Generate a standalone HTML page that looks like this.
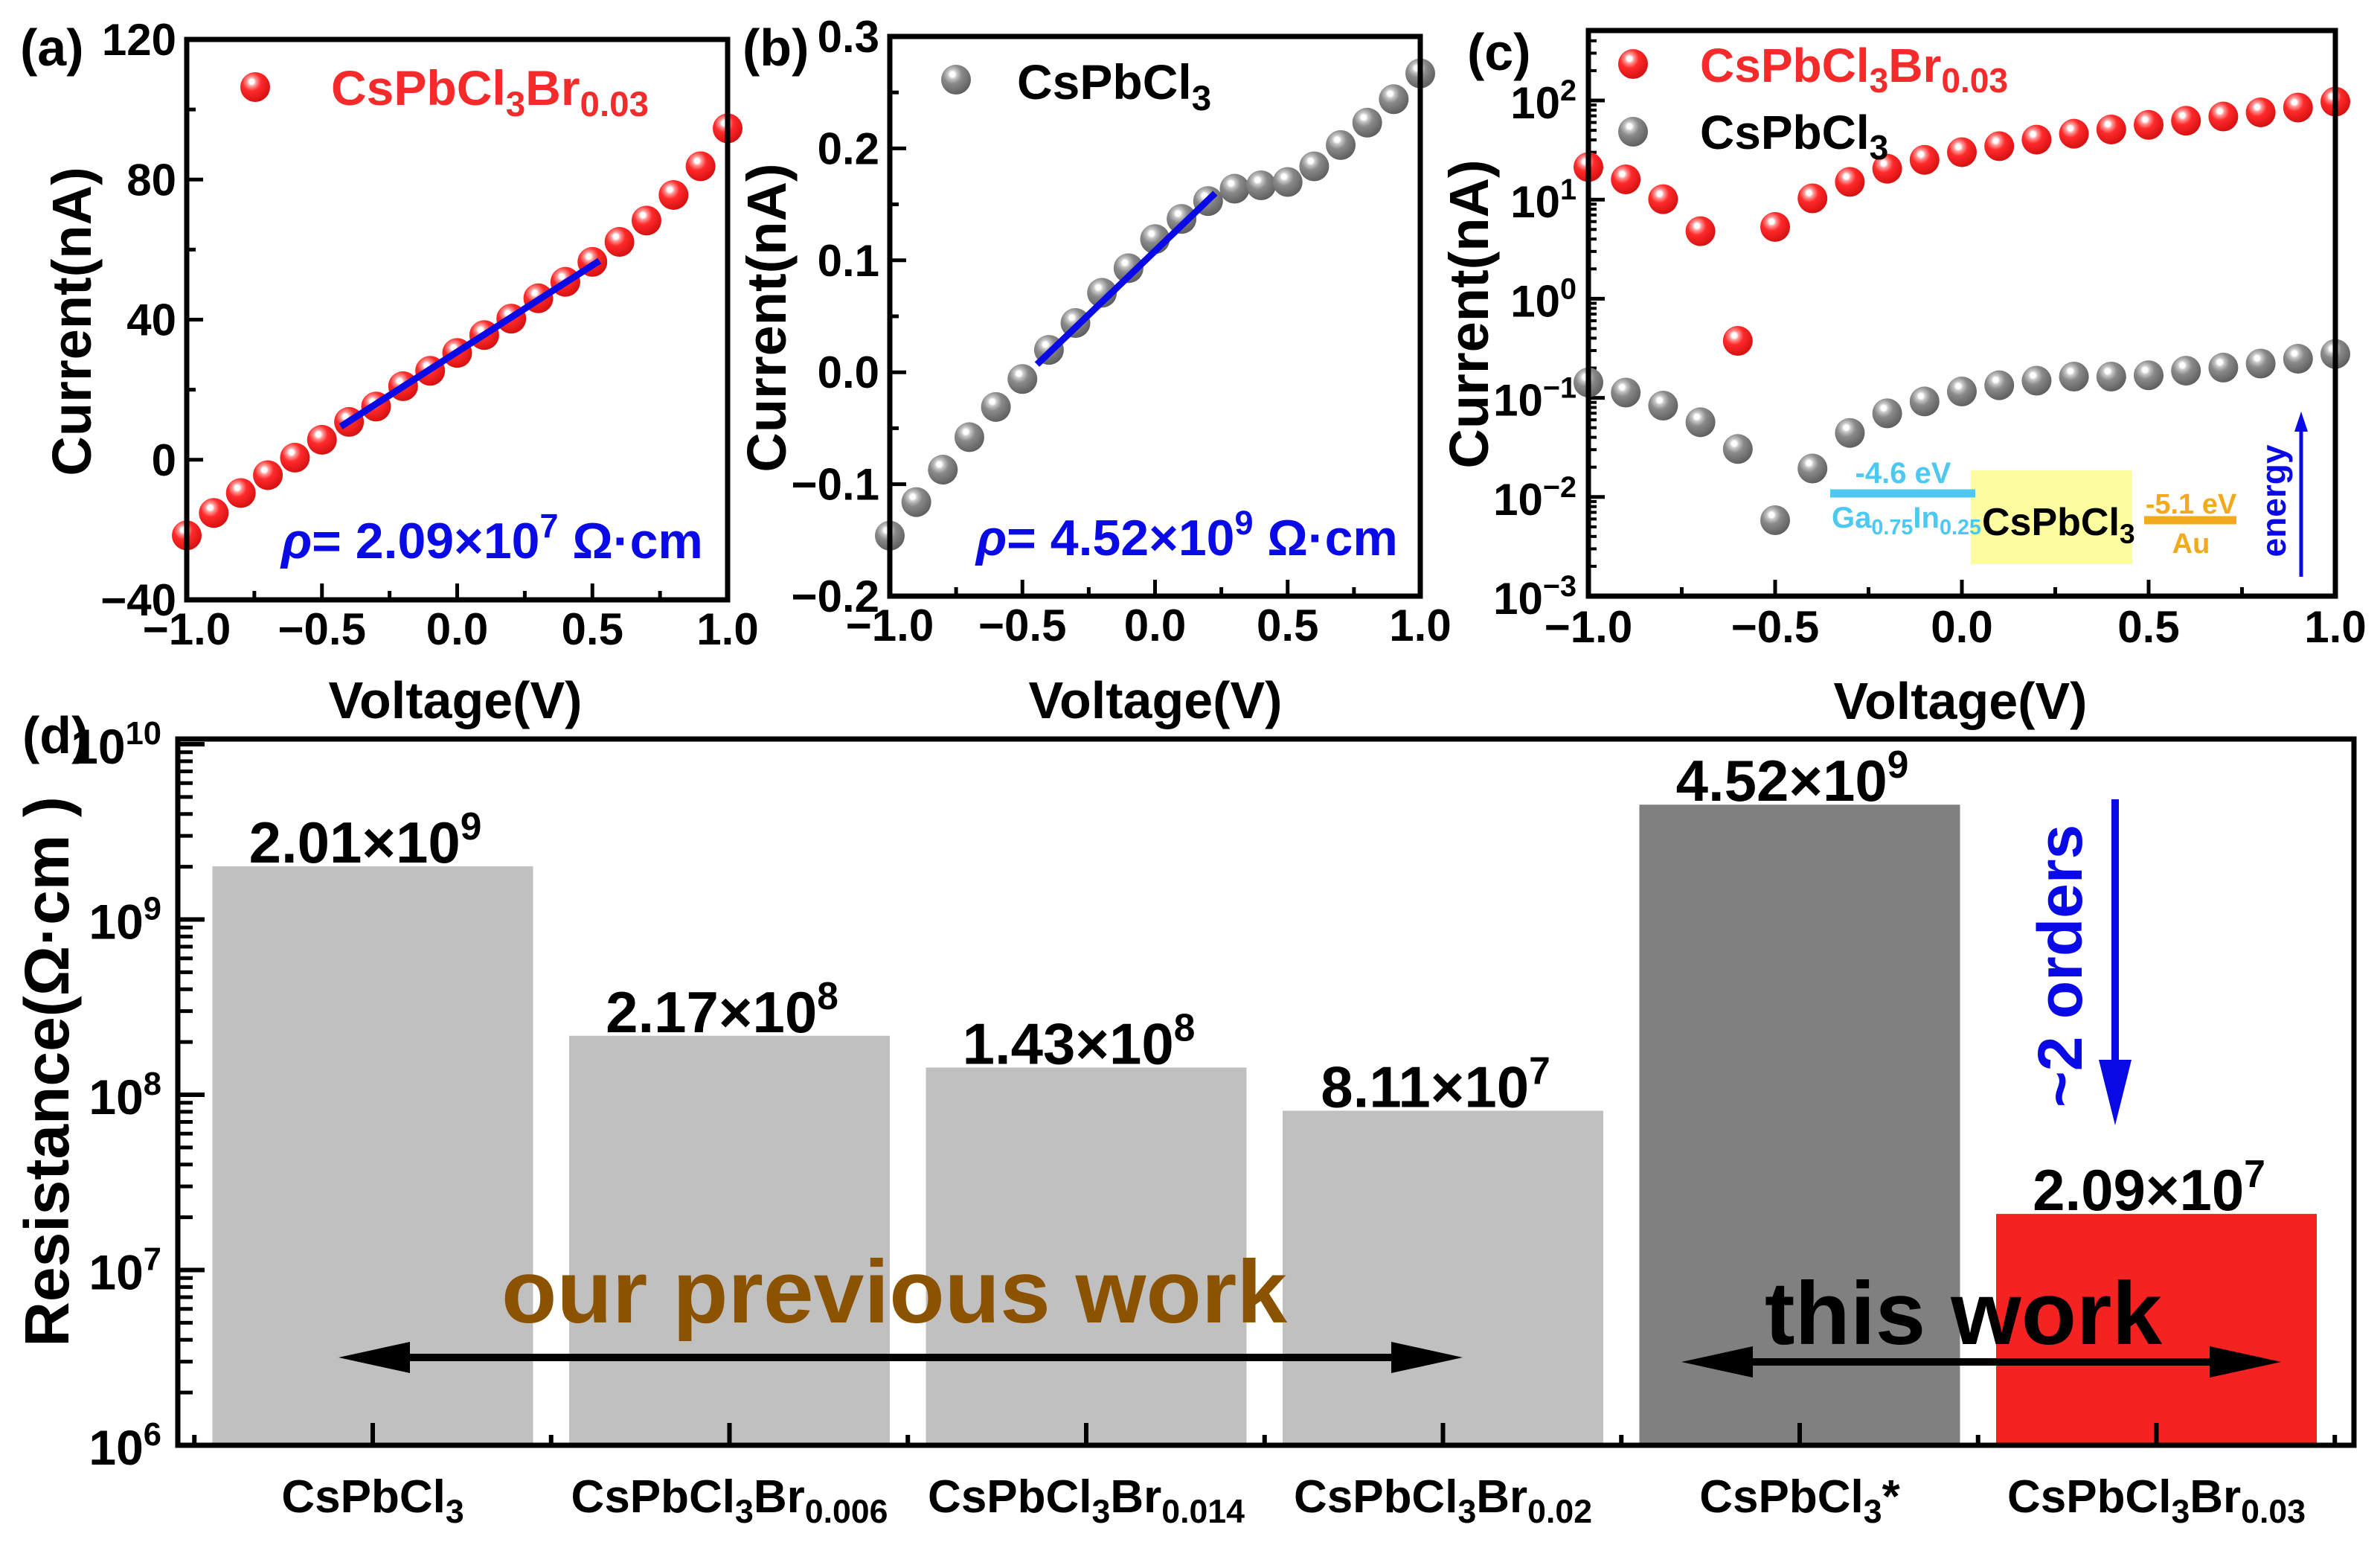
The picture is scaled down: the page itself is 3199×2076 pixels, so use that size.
<!DOCTYPE html>
<html><head><meta charset="utf-8">
<style>
html,body{margin:0;padding:0;background:#fff;}
svg{display:block;font-family:"Liberation Sans",Arial,sans-serif;font-weight:bold;}
</style></head>
<body>
<svg id="fig" xmlns="http://www.w3.org/2000/svg" width="3199" height="2076" viewBox="0 0 3199 2076">
<defs>
<radialGradient id="gRed" cx="38%" cy="32%" r="70%">
<stop offset="0" stop-color="#ffffff"/><stop offset="0.12" stop-color="#ffffff"/>
<stop offset="0.22" stop-color="#ff9a9a"/><stop offset="0.45" stop-color="#ff2a2a"/><stop offset="1" stop-color="#d41010"/>
</radialGradient>
<radialGradient id="gGray" cx="38%" cy="32%" r="70%">
<stop offset="0" stop-color="#ffffff"/><stop offset="0.12" stop-color="#ffffff"/>
<stop offset="0.22" stop-color="#c8c8c8"/><stop offset="0.45" stop-color="#8a8a8a"/><stop offset="1" stop-color="#5e5e5e"/>
</radialGradient>
</defs>
</svg>
<script>
// ---- data ----
const vX = [-1,-0.9,-0.8,-0.7,-0.6,-0.5,-0.4,-0.3,-0.2,-0.1,0,0.1,0.2,0.3,0.4,0.5,0.6,0.7,0.8,0.9,1.0];
const aCurrent = [-21.6,-15.2,-9.5,-4.4,0.6,5.7,10.8,15.2,21,25.4,30.5,35.6,40.3,46.1,50.8,56.5,62.2,68.3,75.6,83.8,94.6];
const aFitX = [-0.43,0.526];
const aFitY = [9.5,56.8];
const bCurrent = [-0.146,-0.116,-0.087,-0.058,-0.031,-0.006,0.020,0.044,0.071,0.093,0.119,0.137,0.153,0.164,0.167,0.170,0.184,0.203,0.223,0.244,0.267];
const bFitX = [-0.445,0.227];
const bFitY = [0.007,0.160];
const cRed = [21.3,16,10.1,4.8,0.376,5.3,10.3,15.1,20.5,25.2,30.1,34.6,40.3,46.2,51,56.8,62.5,68.9,75.9,84.8,97.3];
const cGray = [0.143,0.113,0.0836,0.0568,0.0305,0.00583,0.0194,0.0443,0.0698,0.092,0.116,0.134,0.149,0.164,0.164,0.169,0.188,0.202,0.222,0.248,0.277];
const aYTicks = [-40,0,40,80,120];
const bYTicks = [-0.2,-0.1,0.0,0.1,0.2,0.3];
const bYTickLabels = ["\u22120.2","\u22120.1","0.0","0.1","0.2","0.3"];
const xTicks = [-1,-0.5,0,0.5,1];
const xTickLabels = ["\u22121.0","\u22120.5","0.0","0.5","1.0"];
const cYExp = [-3,-2,-1,0,1,2];
const barCats = ["CsPbCl_{3}","CsPbCl_{3}Br_{0.006}","CsPbCl_{3}Br_{0.014}","CsPbCl_{3}Br_{0.02}","CsPbCl_{3}*","CsPbCl_{3}Br_{0.03}"];
const barVals = [2.01e9,2.17e8,1.43e8,8.11e7,4.52e9,2.09e7];
const barLabels = ["2.01\u00d710^{9}","2.17\u00d710^{8}","1.43\u00d710^{8}","8.11\u00d710^{7}","4.52\u00d710^{9}","2.09\u00d710^{7}"];
const barColors = ["#c0c0c0","#c0c0c0","#c0c0c0","#c0c0c0","#808080","#f52222"];
const dYExp = [6,7,8,9,10];

const NS = "http://www.w3.org/2000/svg";
const svg = document.getElementById('fig');
function mk(tag, parent){ const e=document.createElementNS(NS,tag); (parent||svg).appendChild(e); return e; }
function lin(d0,d1,r0,r1){ return v => r0+(v-d0)*(r1-r0)/(d1-d0); }
function logS(e0,e1,r0,r1){ return v => r0+(Math.log10(v)-e0)*(r1-r0)/(e1-e0); }
function rich(t, str, fs){
  const re=/(_\{[^}]*\}|\^\{[^}]*\})/g; const parts=str.split(re);
  parts.forEach(p=>{ if(!p) return; const ts=mk('tspan',t);
    if(p[0]==='_'){ ts.textContent=p.slice(2,-1); ts.setAttribute('font-size',fs*0.72); ts.setAttribute('baseline-shift',-fs*0.22); }
    else if(p[0]==='^'){ ts.textContent=p.slice(2,-1); ts.setAttribute('font-size',fs*0.66); ts.setAttribute('baseline-shift',fs*0.4); }
    else ts.textContent=p; });
}
function txt(x,y,str,fs,anchor,fill,name,rot){
  const t=mk('text'); t.setAttribute('x',x); t.setAttribute('y',y); t.setAttribute('font-size',fs);
  t.setAttribute('text-anchor',anchor||'start'); t.setAttribute('fill',fill||'#000');
  if(rot) t.setAttribute('transform','rotate('+rot+' '+x+' '+y+')');
  rich(t,str,fs);
  
  
  return t;
}
function line(x1,y1,x2,y2,w,c,name){
  const l=mk('line'); l.setAttribute('x1',x1); l.setAttribute('y1',y1); l.setAttribute('x2',x2); l.setAttribute('y2',y2);
  l.setAttribute('stroke',c||'#000'); l.setAttribute('stroke-width',w);
  
  
  return l;
}
function frame(x0,y0,x1,y1,name){
  const r=mk('rect'); r.setAttribute('x',x0); r.setAttribute('y',y0); r.setAttribute('width',x1-x0); r.setAttribute('height',y1-y0);
  r.setAttribute('fill','none'); r.setAttribute('stroke','#000'); r.setAttribute('stroke-width',7);
  
  
}
function sphere(x,y,grad,name){
  const c=mk('circle'); c.setAttribute('cx',x); c.setAttribute('cy',y); c.setAttribute('r',20); c.setAttribute('fill','url(#'+grad+')');
  
  
}

// ---- linear IV panels ----
function linPanel(P){
  const sx=lin(-1,1,P.x0,P.x1), sy=lin(P.ymin,P.ymax,P.y1,P.y0);
  for(let i=0;i<=8;i++){ const v=-1+i*0.25; const x=sx(v); const maj=i%2===0;
    line(x,P.y1,x,P.y1-(maj?22:12),5,'#000',P.id+'-x-tick'); }
  xTicks.forEach((v,i)=>txt(sx(v),P.y1+60,xTickLabels[i],60,'middle','#000',P.id+'-x-tick-label'));
  const st=P.yt[1]-P.yt[0];
  for(let k=0;k<P.yt.length;k++){ const y=sy(P.yt[k]); line(P.x0,y,P.x0+22,y,5,'#000',P.id+'-y-tick');
    if(k<P.yt.length-1){ const ym=sy(P.yt[k]+st/2); line(P.x0,ym,P.x0+12,ym,5,'#000',P.id+'-y-minor-tick'); }
    txt(P.x0-14,y+21,P.ytl[k],60,'end','#000',P.id+'-y-tick-label'); }
  vX.forEach((v,i)=>sphere(sx(v),sy(P.data[i]),P.grad,P.id+'-point'));
  line(sx(P.fx[0]),sy(P.fy[0]),sx(P.fx[1]),sy(P.fy[1]),9,'#0a0ae6',P.id+'-fit-line');
  frame(P.x0,P.y0,P.x1,P.y1,P.id+'-plot-frame');
}
linPanel({id:'panel-a',x0:251,x1:978,y0:53,y1:806,ymin:-40,ymax:120,yt:aYTicks,ytl:aYTicks.map(v=>v<0?'\u2212'+(-v):''+v),data:aCurrent,fx:aFitX,fy:aFitY,grad:'gRed'});
linPanel({id:'panel-b',x0:1196,x1:1909,y0:49,y1:801,ymin:-0.2,ymax:0.3,yt:bYTicks,ytl:bYTickLabels,data:bCurrent,fx:bFitX,fy:bFitY,grad:'gGray'});

txt(27,88,'(a)',70,'start','#000','panel-a-letter');
txt(998,88,'(b)',70,'start','#000','panel-b-letter');
txt(122,432,'Current(nA)',74,'middle','#000','panel-a-y-axis-title',-90);
txt(1056,427,'Current(nA)',74,'middle','#000','panel-b-y-axis-title',-90);
txt(612,965,'Voltage(V)',70,'middle','#000','panel-a-x-axis-title');
txt(1553,965,'Voltage(V)',70,'middle','#000','panel-b-x-axis-title');
sphere(343,117,'gRed','panel-a-legend-marker');
txt(445,141,'CsPbCl_{3}Br_{0.03}',66,'start','#f52a2a','panel-a-legend-label');
sphere(1285,107,'gGray','panel-b-legend-marker');
txt(1367,133,'CsPbCl_{3}',66,'start','#000','panel-b-legend-label');
(function(){ const t=txt(378,750,'',68,'start','#0a0ae6','panel-a-resistivity-label');
  t.innerHTML='<tspan font-style="italic">\u03c1</tspan>= 2.09\u00d710<tspan font-size="45" baseline-shift="28">7</tspan> \u03a9\u00b7cm'; })();
(function(){ const t=txt(1312,746,'',68,'start','#0a0ae6','panel-b-resistivity-label');
  t.innerHTML='<tspan font-style="italic">\u03c1</tspan>= 4.52\u00d710<tspan font-size="45" baseline-shift="28">9</tspan> \u03a9\u00b7cm'; })();

// ---- panel c (log) ----
(function(){
  const P={x0:2135,x1:3139,y0:41,y1:801};
  const sx=lin(-1,1,P.x0,P.x1), sy=logS(-3,2,P.y1,135);
  for(let i=0;i<=8;i++){ const x=sx(-1+i*0.25); const maj=i%2===0; line(x,P.y1,x,P.y1-(maj?22:12),5,'#000','panel-c-x-tick'); }
  xTicks.forEach((v,i)=>txt(sx(v),P.y1+62,xTickLabels[i],60,'middle','#000','panel-c-x-tick-label'));
  for(let e=-3;e<=2;e++){ const y=sy(Math.pow(10,e)); line(P.x0,y,P.x0+22,y,5,'#000','panel-c-y-tick');
    for(let m=2;m<=9;m++){ const ym=sy(m*Math.pow(10,e)); if(ym>P.y0) line(P.x0,ym,P.x0+11,ym,4,'#000','panel-c-y-minor-tick'); } }
  cYExp.forEach(e=>txt(P.x0-16,sy(Math.pow(10,e))+24,'10^{'+(e<0?'\u2212'+(-e):e)+'}',60,'end','#000','panel-c-y-tick-label'));
  vX.forEach((v,i)=>sphere(sx(v),sy(cRed[i]),'gRed','panel-c-red-point'));
  vX.forEach((v,i)=>sphere(sx(v),sy(cGray[i]),'gGray','panel-c-gray-point'));
  frame(P.x0,P.y0,P.x1,P.y1,'panel-c-plot-frame');
})();
txt(1972,94,'(c)',70,'start','#000','panel-c-letter');
txt(2000,422,'Current(nA)',74,'middle','#000','panel-c-y-axis-title',-90);
txt(2635,966,'Voltage(V)',70,'middle','#000','panel-c-x-axis-title');
sphere(2195,86,'gRed','panel-c-legend-red-marker');
txt(2285,110,'CsPbCl_{3}Br_{0.03}',64,'start','#f52a2a','panel-c-legend-red-label');
sphere(2195,177,'gGray','panel-c-legend-gray-marker');
txt(2285,200,'CsPbCl_{3}',64,'start','#000','panel-c-legend-gray-label');
(function(){
  const r=mk('rect'); r.setAttribute('x',2649); r.setAttribute('y',632); r.setAttribute('width',217); r.setAttribute('height',126); r.setAttribute('fill','#fdfd9f');
  
  
})();
line(2460,663,2655,663,11,'#4cc8f2','band-galnin-level');
txt(2558,649,'-4.6 eV',40,'middle','#4cc8f2','band-galnin-energy-label');
txt(2462,709,'Ga_{0.75}In_{0.25}',40,'start','#4cc8f2','band-galnin-label');
txt(2664,719,'CsPbCl_{3}',52,'start','#000','band-perovskite-label');
line(2882,699,3006,699,11,'#f2aa1c','band-au-level');
txt(2945,690,'-5.1 eV',38,'middle','#f2aa1c','band-au-energy-label');
txt(2945,743,'Au',38,'middle','#f2aa1c','band-au-label');
line(3093,775,3093,575,5,'#0a0ae6','energy-arrow-shaft');
(function(){ const p=mk('polygon'); p.setAttribute('points','3084,580 3093,553 3102,580'); p.setAttribute('fill','#0a0ae6');
  
   })();
txt(3072,673,'energy',46,'middle','#0a0ae6','energy-label',-90);

// ---- panel d (bars) ----
(function(){
  const P={x0:239,x1:3164,y0:993,y1:1942};
  const sy=logS(6,10,P.y1,P.y1-4*235.5);
  const step=479.5, c0=501, bw=431;
  const cx=i=>c0+i*step;
  barVals.forEach((v,i)=>{ const r=mk('rect'); const top=sy(v);
    r.setAttribute('x',cx(i)-bw/2); r.setAttribute('y',top); r.setAttribute('width',bw); r.setAttribute('height',P.y1-top); r.setAttribute('fill',barColors[i]);
    
    
    txt(cx(i)-10,top-5,barLabels[i],78,'middle','#000','bar-value-label');
    txt(cx(i),2032,barCats[i],62,'middle','#000','category-label');
    line(cx(i),P.y1,cx(i),P.y1-30,6,'#000','x-major-tick');
    line(cx(i)-step/2,P.y1,cx(i)-step/2,P.y1-14,6,'#000','x-minor-tick');
  });
  line(cx(5)+step/2,P.y1,cx(5)+step/2,P.y1-14,6,'#000','x-minor-tick');
  for(let e=6;e<=10;e++){ const y=sy(Math.pow(10,e)); line(P.x0,y,P.x0+36,y,6,'#000','y-major-tick');
    if(e<10) for(let m=2;m<=9;m++){ line(P.x0,sy(m*Math.pow(10,e)),P.x0+20,sy(m*Math.pow(10,e)),5,'#000','y-minor-tick'); } }
  dYExp.forEach(e=>txt(P.x0-22,sy(Math.pow(10,e))+26,'10^{'+e+'}',66,'end','#000','y-tick-label'));
  frame(P.x0,P.y0,P.x1,P.y1,'panel-d-plot-frame');
})();
txt(30,1012,'(d)',70,'start','#000','panel-d-letter');
txt(92,1440,'Resistance(\u03a9\u00b7cm )',84,'middle','#000','panel-d-y-axis-title',-90);
(function(){ const t=txt(674,1777,'our previous work',120,'start','#8b5200','previous-work-label'); t.setAttribute('textLength',1056); t.setAttribute('lengthAdjust','spacingAndGlyphs'); })();
(function(){ const t=txt(2372,1806,'this work',120,'start','#000','this-work-label'); t.setAttribute('textLength',534); t.setAttribute('lengthAdjust','spacingAndGlyphs'); })();
function dblArrow(x1,x2,y,name){
  line(x1+80,y,x2-80,y,10,'#000',name+'-shaft');
  const p=mk('polygon'); p.setAttribute('points',(x1)+','+y+' '+(x1+96)+','+(y-21)+' '+(x1+96)+','+(y+21)); p.setAttribute('fill','#000');
  
  
  const q=mk('polygon'); q.setAttribute('points',(x2)+','+y+' '+(x2-96)+','+(y-21)+' '+(x2-96)+','+(y+21)); q.setAttribute('fill','#000');
  
  
}
dblArrow(455,1966,1824,'previous-work-arrow');
dblArrow(2260,3066,1830,'this-work-arrow');
line(2843,1074,2843,1430,10,'#0a0ae6','two-orders-arrow-shaft');
(function(){ const p=mk('polygon'); p.setAttribute('points','2821,1424 2865,1424 2843,1512'); p.setAttribute('fill','#0a0ae6');
  
   })();
txt(2798,1298,'~2 orders',84,'middle','#0a0ae6','two-orders-label',-90);
</script>
</body></html>
